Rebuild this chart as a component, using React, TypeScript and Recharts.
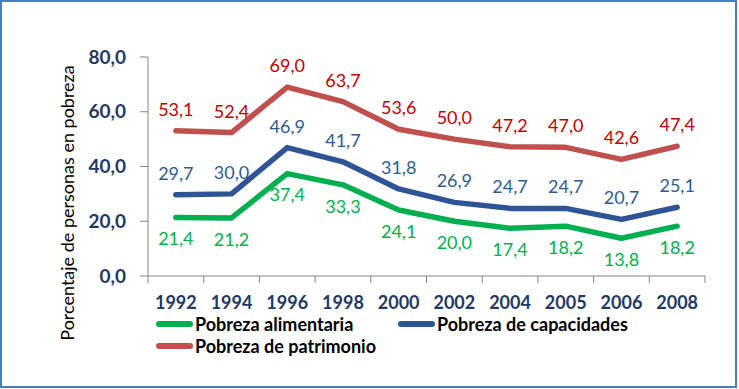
import { LineChart, Line, XAxis, YAxis, LabelList } from 'recharts';

const years = ['1992', '1994', '1996', '1998', '2000', '2002', '2004', '2005', '2006', '2008'];
const alimentaria = [21.4, 21.2, 37.4, 33.3, 24.1, 20.0, 17.4, 18.2, 13.8, 18.2];
const capacidades = [29.7, 30.0, 46.9, 41.7, 31.8, 26.9, 24.7, 24.7, 20.7, 25.1];
const patrimonio = [53.1, 52.4, 69.0, 63.7, 53.6, 50.0, 47.2, 47.0, 42.6, 47.4];
const yTicks = [0, 20, 40, 60, 80];

const series = [
  { key: 'alimentaria', name: 'Pobreza alimentaria', line: '#00B050', label: '#00B050', pos: 'bottom' },
  { key: 'capacidades', name: 'Pobreza de capacidades', line: '#2F5496', label: '#2E5C8F', pos: 'top' },
  { key: 'patrimonio', name: 'Pobreza de patrimonio', line: '#C0504D', label: '#C00000', pos: 'top' },
];

const data = years.map((year, i) => ({
  year,
  alimentaria: alimentaria[i],
  capacidades: capacidades[i],
  patrimonio: patrimonio[i],
}));

const W = 739;
const H = 389;
const margin = { top: 57, right: 34, bottom: 83, left: 0 };
const yAxisWidth = 148;
const band = (W - yAxisWidth - margin.right) / years.length;
const font = 'Lato, "Noto Sans", sans-serif';
const fmt = (v: number) => v.toFixed(1).replace('.', ',');

function YearTick(props: any) {
  const { x, y, payload, index } = props;
  const tickStroke = '#868686';
  return (
    <g>
      <line x1={x - band / 2} y1={y} x2={x - band / 2} y2={y + 7} stroke={tickStroke} />
      {index === years.length - 1 && (
        <line x1={x + band / 2} y1={y} x2={x + band / 2} y2={y + 7} stroke={tickStroke} />
      )}
      <text x={x} y={y + 27} dy="0.35em" textAnchor="middle" fill="#1F3864"
        fontFamily={font} fontWeight={700} fontSize={18}>
        {payload.value}
      </text>
    </g>
  );
}

export default function App() {
  return (
    <div style={{ position: 'absolute', left: 0, top: 0, width: W, height: H, background: '#fff' }}>
      <LineChart width={W} height={H} data={data} margin={margin}>
        <XAxis dataKey="year" height={30} tickLine={false} tickSize={0} tickMargin={0}
          padding={{ left: band / 2, right: band / 2 }}
          axisLine={{ stroke: '#868686' }} tick={<YearTick />} interval={0} />
        <YAxis width={yAxisWidth} domain={[0, 80]} ticks={yTicks} tickFormatter={fmt}
          axisLine={{ stroke: '#868686' }} tickLine={{ stroke: '#868686' }} tickSize={8} tickMargin={14}
          tick={{ fill: '#1F3864', fontFamily: font, fontWeight: 700, fontSize: 19 }} />
        {series.map((s) => (
          <Line key={s.key} dataKey={s.key} name={s.name} stroke={s.line} strokeWidth={5.5}
            strokeLinejoin="round" strokeLinecap="round" dot={false} isAnimationActive={false}>
            <LabelList dataKey={s.key} position={s.pos as any} offset={15} formatter={(v: any) => fmt(Number(v))}
              fill={s.label} fontFamily={font} fontSize={18} />
          </Line>
        ))}
      </LineChart>
      <svg width={W} height={H} style={{ position: 'absolute', left: 0, top: 0, pointerEvents: 'none' }}>
        <text transform="translate(68,203) rotate(-90)" textAnchor="middle" dy="0.35em"
          fontFamily={font} fontSize={18} fill="#000">
          Porcentaje de personas en pobreza
        </text>
      </svg>
      {[
        { s: series[0], left: 156, top: 324 },
        { s: series[1], left: 398, top: 324 },
        { s: series[2], left: 156, top: 346 },
      ].map(({ s, left, top }) => (
        <div key={s.key} style={{ position: 'absolute', left, top: top - 9, height: 18, lineHeight: '18px', display: 'flex',
          alignItems: 'center', fontFamily: font, fontWeight: 700, fontSize: 18, color: '#000', whiteSpace: 'nowrap' }}>
          <span style={{ display: 'inline-block', width: 37, height: 6, borderRadius: 3, background: s.line, marginRight: 2 }} />
          {s.name}
        </div>
      ))}
      <div style={{ position: 'absolute', left: 0, top: 0, width: 737, height: 388, boxSizing: 'border-box',
        border: '2px solid #4A7EBB', pointerEvents: 'none' }} />
    </div>
  );
}
